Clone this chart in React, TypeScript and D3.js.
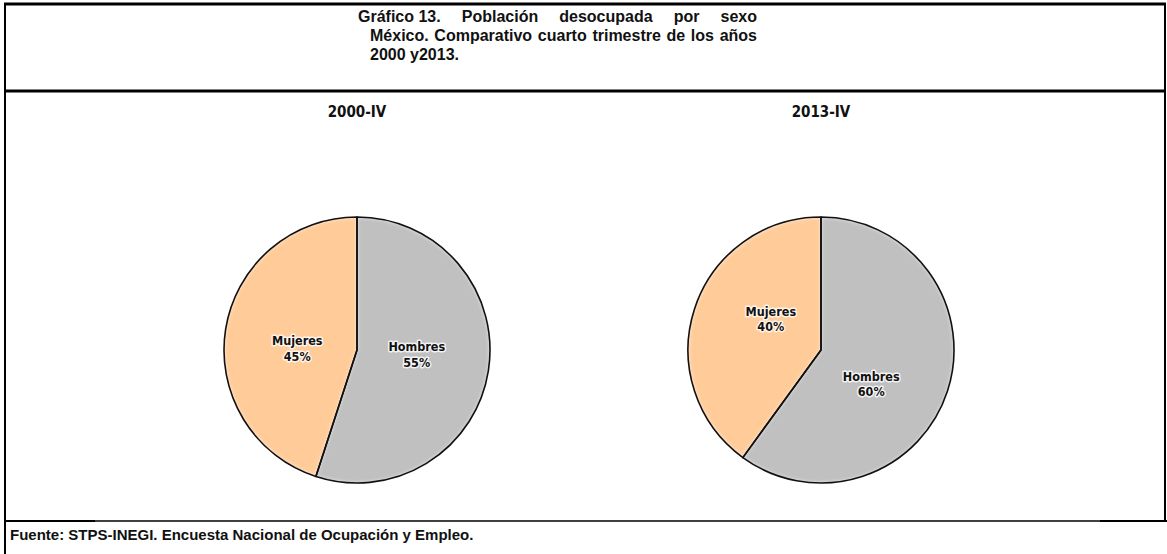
import React from 'react';
import * as d3 from 'd3';

// data
const periods = ['2000-IV', '2013-IV'];
const categories = ['Hombres', 'Mujeres'];
const shares2000 = [55, 45];
const shares2013 = [60, 40];
const sliceColors = ['#C0C0C0', '#FFCC99'];

const titleLine1 = 'Gráfico 13. Población desocupada por sexo';
const titleLine2 = 'México. Comparativo cuarto trimestre de los años';
const titleLine3 = '2000 y2013.';
const source = 'Fuente: STPS-INEGI. Encuesta Nacional de Ocupación y Empleo.';

const W = 1167;
const H = 554;
const TITLE_FONT = 'bold 16px "Liberation Sans"';

// measure words so that a line can be justified like the word processor did
const ctx = document.createElement('canvas').getContext('2d');
function justify(line, x0, x1) {
  const words = line.split(' ').reduce((acc, w) => {
    // keep "Gráfico 13." together, the gap inside it is a normal one
    if (acc.length && /^\d/.test(w) && acc[acc.length - 1] === 'Gráfico') {
      acc[acc.length - 1] += ' ' + w;
    } else acc.push(w);
    return acc;
  }, []);
  ctx.font = TITLE_FONT;
  const widths = words.map((w) => ctx.measureText(w).width);
  const gap = (x1 - x0 - d3.sum(widths)) / (words.length - 1);
  let x = x0;
  return words.map((w, i) => {
    const out = { w, x };
    x += widths[i] + gap;
    return out;
  });
}

const Pie = ({ cx, cy, r, label, values, labelTurn }) => {
  const pie = d3.pie().sort(null).value((d) => d);
  const arcs = pie(values);
  const arc = d3.arc().innerRadius(0).outerRadius(r);
  const labelArc = d3.arc().innerRadius(0).outerRadius(r * 0.9);
  const turn = (labelTurn * Math.PI) / 180;

  return (
    <g transform={`translate(${cx},${cy})`}>
      <text
        x={0}
        y={-r - 100}
        textAnchor="middle"
        fontFamily="DejaVu Sans Condensed, DejaVu Sans"
        fontWeight="bold"
        fontSize={15}
        fill="#111"
      >
        {label}
      </text>
      {arcs.map((a, i) => (
        <path key={i} d={arc(a)} fill={sliceColors[i]} filter="url(#softEdge)" />
      ))}
      {arcs.map((a, i) => (
        <path key={'s' + i} d={arc(a)} fill="none" stroke="#111" strokeWidth={1.6} strokeLinejoin="round" />
      ))}
      {arcs.map((a, i) => {
        const [lx, ly] = labelArc.centroid({
          ...a,
          startAngle: a.startAngle + turn,
          endAngle: a.endAngle + turn,
        });
        return (
          <text
            key={'l' + i}
            x={lx}
            y={ly}
            textAnchor="middle"
            fontFamily="DejaVu Sans Condensed, DejaVu Sans"
            fontWeight="bold"
            fontSize={12.5}
            fill="#111"
            stroke="#fff"
            strokeWidth={3}
            strokeOpacity={0.8}
            strokeLinejoin="round"
            style={{ paintOrder: 'stroke' }}
          >
            <tspan x={lx} dy="-0.15em">{categories[i]}</tspan>
            <tspan x={lx} dy="1.25em">{values[i]}%</tspan>
          </text>
        );
      })}
    </g>
  );
};

const App = () => {
  const line1 = justify(titleLine1, 358, 757);
  const line2 = justify(titleLine2, 370, 757);

  return (
    <svg width={W} height={H} style={{ position: 'absolute', left: 0, top: 0, background: '#fff' }}>
      <defs>
        {/* light inner glow along the slice edges, like the office chart bevel */}
        <filter id="softEdge" x="-5%" y="-5%" width="110%" height="110%">
          <feGaussianBlur in="SourceAlpha" stdDeviation="2" result="blur" />
          <feComposite in="SourceAlpha" in2="blur" operator="arithmetic" k2="1" k3="-1" result="edge" />
          <feFlood floodColor="#fff" floodOpacity="0.7" />
          <feComposite in2="edge" operator="in" result="glow" />
          <feMerge>
            <feMergeNode in="SourceGraphic" />
            <feMergeNode in="glow" />
          </feMerge>
        </filter>
      </defs>
      <rect x={0} y={0} width={W} height={H} fill="#fff" />

      {/* frame */}
      <line x1={4} y1={4} x2={1166} y2={4} stroke="#000" strokeWidth={3} />
      <line x1={5} y1={3} x2={5} y2={H} stroke="#000" strokeWidth={2} />
      <line x1={1165} y1={3} x2={1165} y2={522} stroke="#000" strokeWidth={2} />
      <line x1={4} y1={91} x2={1166} y2={91} stroke="#000" strokeWidth={3} />
      <line x1={4} y1={521} x2={95} y2={521} stroke="#000" strokeWidth={2} />
      <line x1={95} y1={521} x2={1100} y2={521} stroke="#000" strokeWidth={1.5} />
      <line x1={1100} y1={521} x2={W} y2={521} stroke="#000" strokeWidth={2} />

      {/* title */}
      <g fontFamily="Liberation Sans" fontWeight="bold" fontSize={16} fill="#111">
        {line1.map((d) => (
          <text key={d.w} x={d.x} y={22}>
            {d.w}
          </text>
        ))}
        {line2.map((d) => (
          <text key={d.w} x={d.x} y={41}>
            {d.w}
          </text>
        ))}
        <text x={370} y={60}>{titleLine3}</text>
      </g>

      <Pie cx={357} cy={350} r={133} label={periods[0]} values={shares2000} labelTurn={-6} />
      <Pie cx={821} cy={350} r={133} label={periods[1]} values={shares2013} labelTurn={15} />

      {/* source */}
      <text x={10} y={540} fontFamily="Liberation Sans" fontWeight="bold" fontSize={15} fill="#111">
        {source}
      </text>
    </svg>
  );
};

export default App;
